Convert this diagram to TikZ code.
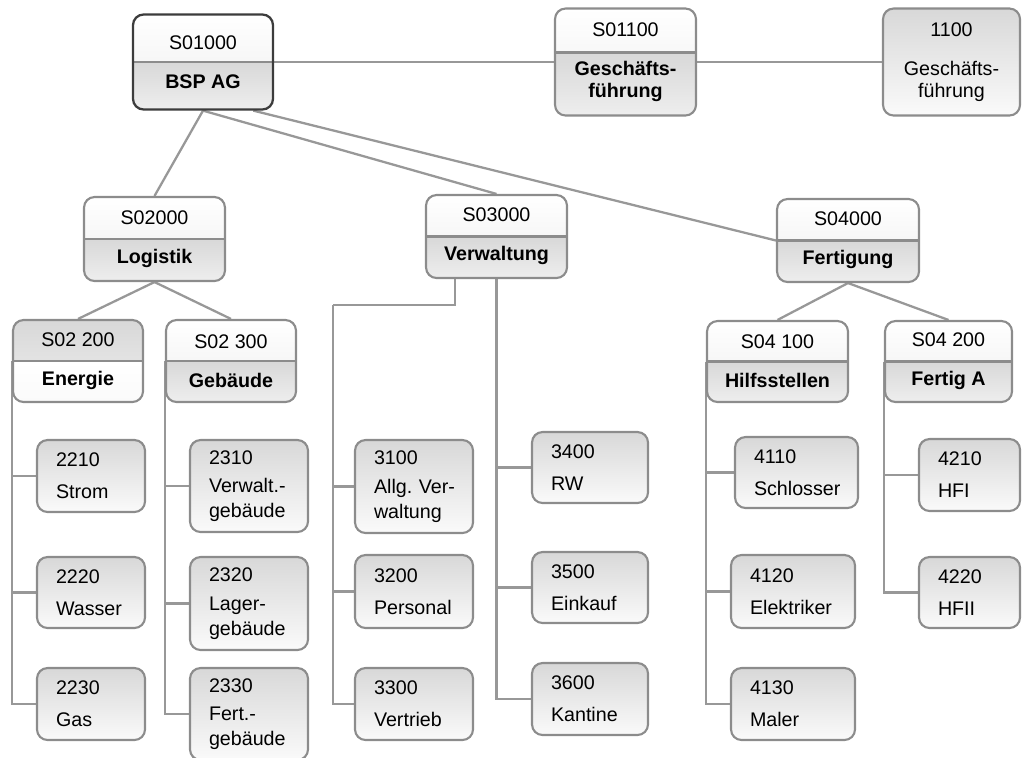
\documentclass[tikz,border=0pt]{standalone}
\usepackage{fontspec}
\setmainfont{Liberation Sans}
\usetikzlibrary{backgrounds}

\definecolor{boxline}{HTML}{8C8C8C}
\definecolor{connline}{HTML}{989898}
\definecolor{topframe}{HTML}{3C3C3C}
\definecolor{shadegray}{HTML}{D8D8D8}
\definecolor{shadelight}{HTML}{EEEEEE}
\definecolor{shadepale}{HTML}{FAFAFA}

\tikzset{
  box/.style={draw=boxline, line width=1.2pt, rounded corners=6pt, inner sep=2pt,
    font=\fontsize{11.2}{12.2}\selectfont},
  divshift/.store in=\divshift, divshift=0pt,
  unit/.style n args={4}{box, align=center, path picture={
      \shade[sharp corners, top color=#1, bottom color=#2]
        (path picture bounding box.north west) rectangle ([yshift=\divshift]path picture bounding box.east);
      \shade[sharp corners, top color=#3, bottom color=#4]
        ([yshift=\divshift]path picture bounding box.west) rectangle (path picture bounding box.south east);
      \draw[sharp corners, boxline, line width=1.3pt]
        ([yshift=\divshift]path picture bounding box.west) -- ([yshift=\divshift]path picture bounding box.east);
    }},
  whitehead/.style={unit={white}{shadelight}{shadegray}{shadelight}},
  grayhead/.style={unit={shadegray}{shadelight}{white}{shadepale}},
  leaf/.style={box, top color=shadegray, bottom color=shadepale, align=left,
    inner xsep=0.38cm, text width=#1},
  conn/.style={draw=connline, line width=1.3pt},
}

\begin{document}
\begin{tikzpicture}[x=0.02cm, y=-0.02cm]
    \useasboundingbox (0,0) rectangle (1022,758);
    \clip (0,0) rectangle (1022,758);

    % top level
    \node[whitehead, draw=topframe, line width=1.3pt, minimum width=2.80cm, minimum height=1.90cm] (s01000) at (203,62) {S01000\\[10pt]\textbf{BSP AG}};
    \node[whitehead, divshift=5.4pt, minimum width=2.82cm, minimum height=2.14cm] (s01100) at (625.5,62) {S01100\\[10pt]\textbf{Geschäfts-}\\\textbf{führung}};
    \node[box, top color=shadegray, bottom color=shadepale, align=center, minimum width=2.74cm, minimum height=2.14cm] (k1100) at (951.5,62) {1100\\[10pt]Geschäfts-\\führung};

    \node[whitehead, minimum width=2.82cm, minimum height=1.68cm] (s02000) at (154.5,239) {S02000\\[10pt]\textbf{Logistik}};
    \node[whitehead, minimum width=2.82cm, minimum height=1.66cm] (s03000) at (496.5,236.5) {S03000\\[10pt]\textbf{Verwaltung}};
    \node[whitehead, minimum width=2.84cm, minimum height=1.66cm] (s04000) at (848,240.5) {S04000\\[10pt]\textbf{Fertigung}};

    \node[grayhead, minimum width=2.60cm, minimum height=1.64cm] (s02200) at (78,361) {S02 200\\[10pt]\textbf{Energie}};
    \node[whitehead, minimum width=2.60cm, minimum height=1.64cm] (s02300) at (231,361) {S02 300\\[10pt]\textbf{Gebäude}};
    \node[whitehead, minimum width=2.82cm, minimum height=1.62cm] (s04100) at (777.5,361.5) {S04 100\\[10pt]\textbf{Hilfsstellen}};
    \node[whitehead, minimum width=2.54cm, minimum height=1.62cm] (s04200) at (948.5,361.5) {S04 200\\[10pt]\textbf{Fertig A}};

    % cost centres
    \node[leaf=1.40cm, minimum height=1.44cm] (k2210) at (91,476) {2210\\[6pt]Strom};
    \node[leaf=1.40cm, minimum height=1.42cm] (k2220) at (91,592.5) {2220\\[6pt]Wasser};
    \node[leaf=1.40cm, minimum height=1.44cm] (k2230) at (91,704) {2230\\[6pt]Gas};

    \node[leaf=1.60cm, minimum height=1.84cm] (k2310) at (249,486) {2310\\[4pt]Verwalt.-\\[2pt]gebäude};
    \node[leaf=1.60cm, minimum height=1.86cm] (k2320) at (249,603.5) {2320\\[4pt]Lager-\\[2pt]gebäude};
    \node[leaf=1.60cm, minimum height=1.84cm] (k2330) at (249,714) {2330\\[4pt]Fert.-\\[2pt]gebäude};

    \node[leaf=1.60cm, minimum height=1.86cm] (k3100) at (414,486.5) {3100\\[4pt]\mbox{Allg.\ Ver-}\\[2pt]waltung};
    \node[leaf=1.60cm, minimum height=1.46cm] (k3200) at (414,591.5) {3200\\[6pt]Personal};
    \node[leaf=1.60cm, minimum height=1.44cm] (k3300) at (414,704) {3300\\[6pt]Vertrieb};

    \node[leaf=1.56cm, minimum height=1.42cm] (k3400) at (590,467.5) {3400\\[6pt]RW};
    \node[leaf=1.56cm, minimum height=1.42cm] (k3500) at (590,587.5) {3500\\[6pt]Einkauf};
    \node[leaf=1.56cm, minimum height=1.44cm] (k3600) at (590,699) {3600\\[6pt]Kantine};

    \node[leaf=1.70cm, minimum height=1.42cm] (k4110) at (796.5,472.5) {4110\\[6pt]Schlosser};
    \node[leaf=1.72cm, minimum height=1.46cm] (k4120) at (793,591.5) {4120\\[6pt]Elektriker};
    \node[leaf=1.72cm, minimum height=1.44cm] (k4130) at (793,704) {4130\\[6pt]Maler};

    \node[leaf=1.26cm, minimum height=1.44cm] (k4210) at (969.5,475) {4210\\[6pt]HFI};
    \node[leaf=1.26cm, minimum height=1.42cm] (k4220) at (969.5,592.5) {4220\\[6pt]HFII};

    \begin{scope}[on background layer]
        \draw[conn] (s01000.east) -- (s01100.west);
        \draw[conn] (s01100.east) -- (k1100.west);
        \draw[conn] (s01000.south) -- (s02000.north);
        \draw[conn] (s01000.south) -- (s03000.north);
        \draw[conn] (s01000.-44) -- (s04000.west);
        \draw[conn] (s02000.south) -- (s02200.north);
        \draw[conn] (s02000.south) -- (s02300.north);
        \draw[conn] (s04000.south) -- (s04100.north);
        \draw[conn] (s04000.south) -- (s04200.north);

        \foreach \k in {k2210,k2220,k2230} \draw[conn] (s02200.west) |- (\k.west);
        \foreach \k in {k2310,k2320,k2330} \draw[conn] (s02300.west) |- (\k.west);

        \coordinate (vbend) at (333,305);
        \draw[conn] ([xshift=-0.83cm]s03000.south) |- (vbend);
        \foreach \k in {k3100,k3200,k3300} \draw[conn] (vbend) |- (\k.west);
        \foreach \k in {k3400,k3500,k3600} \draw[conn] (s03000.south) |- (\k.west);

        \foreach \k in {k4110,k4120,k4130} \draw[conn] (s04100.west) |- (\k.west);
        \foreach \k in {k4210,k4220} \draw[conn] (s04200.west) |- (\k.west);
    \end{scope}
\end{tikzpicture}
\end{document}
